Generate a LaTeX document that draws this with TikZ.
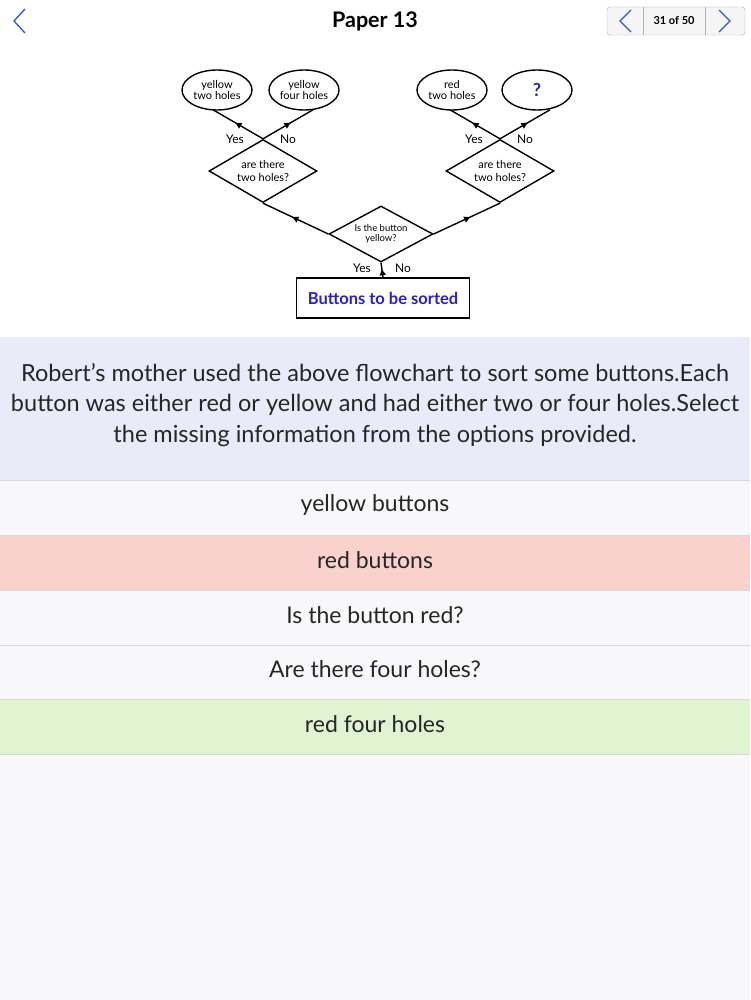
\documentclass[tikz,border=0pt]{standalone}
\usepackage{fontspec}
\setmainfont{Lato}
\usetikzlibrary{shapes.geometric,decorations.markings,arrows.meta,calc}
\definecolor{navblue}{HTML}{2F55D4}
\definecolor{txtblue}{HTML}{2A1FC8}
\definecolor{panel}{HTML}{E9ECF8}
\definecolor{pinkrow}{HTML}{F9D2CE}
\definecolor{greenrow}{HTML}{E1F4D2}
\definecolor{bg}{HTML}{F8F8FA}
\tikzset{
  x=1pt,y=-1pt,
  oval/.style={draw,line width=1.4pt,ellipse,minimum width=70pt,minimum height=40pt,inner sep=0pt,align=center,font=\fontsize{11}{11.5}\selectfont,fill=white},
  dia/.style={draw,line width=1.4pt,diamond,aspect=1.7,minimum width=108pt,minimum height=63pt,inner sep=0pt,align=center,font=\fontsize{11}{12.5}\selectfont},
  flow/.style={line width=1.4pt,postaction={decorate},decoration={markings,mark=at position 0.55 with {\arrow{Triangle[length=6pt,width=6pt]}}}},
  lbl/.style={font=\fontsize{12}{12}\selectfont},
  opt/.style={font=\fontsize{23}{25}\selectfont,text=black!85},
}
\begin{document}
\begin{tikzpicture}
\useasboundingbox (0,0) rectangle (750,1000);
\fill[bg] (0,0) rectangle (750,1000);
\fill[white] (0,0) rectangle (750,337);
% header
\node[font=\bfseries\fontsize{21.5}{21.5}\selectfont] (title) at (375,21) {Paper 13};
\draw[navblue,line width=1.3pt] (25,9) -- (14,21) -- (25,33);
\draw[gray!60,fill=gray!8,rounded corners=3pt] (607,7) rectangle (745,35);
\draw[gray!60] (643,7) -- (643,35) (705,7) -- (705,35);
\draw[navblue,line width=1.3pt] (631,10) -- (620,21) -- (631,32);
\draw[navblue,line width=1.3pt] (719,10) -- (730,21) -- (719,32);
\node[font=\bfseries\fontsize{11}{11}\selectfont] (pg) at (674,21) {31 of 50};
% flowchart
\node[dia] (d1) at (263,171) {are there\\two holes?};
\node[dia] (d2) at (500,171) {are there\\two holes?};
\coordinate (t1) at ($(d1.north)+(-50,-29)$);
\coordinate (t2) at ($(d1.north)+(50,-29)$);
\coordinate (t3) at ($(d2.north)+(-50,-29)$);
\coordinate (t4) at ($(d2.north)+(50,-29)$);
\draw[flow] (d1.north) -- (t1);
\draw[flow] (d1.north) -- (t2);
\draw[flow] (d2.north) -- (t3);
\draw[flow] (d2.north) -- (t4);
\node[oval] (e1) at (217,90) {yellow\\two holes};
\node[oval] (e2) at (304,90) {yellow\\four holes};
\node[oval] (e3) at (452,90) {red\\two holes};
\node[oval,font=\bfseries\fontsize{18}{18}\selectfont,text=txtblue] (e4) at (537,90) {?};
\node[dia,minimum width=104pt,minimum height=56pt,font=\fontsize{9.5}{10.5}\selectfont] (d0) at (381,234) {Is the button\\yellow?};
\node[draw,line width=1.4pt,minimum width=173pt,minimum height=40pt,font=\bfseries\fontsize{16.5}{16.5}\selectfont,text=txtblue] (box) at (383,298) {Buttons to be sorted};
\draw[flow] (box.north) -- (d0.south);
\draw[flow] (d0.west) -- (d1.south);
\draw[flow] (d0.east) -- (d2.south);
\node[lbl] (y0) at (362,268) {Yes};
\node[lbl] (n0) at (403,268) {No};
\node[lbl] (y1) at (235,139) {Yes};
\node[lbl] (n1) at (288,139) {No};
\node[lbl] (y2) at (474,139) {Yes};
\node[lbl] (n2) at (525,139) {No};
% question
\fill[panel] (0,337) rectangle (750,480);
\node[align=center,font=\fontsize{23.5}{30.5}\selectfont,text=black!85] (q) at (375,405) {Robert's mother used the above flowchart to sort some buttons.Each\\button was either red or yellow and had either two or four holes.Select\\the missing information from the options provided.};
\fill[pinkrow] (0,535) rectangle (750,590);
\fill[greenrow] (0,699) rectangle (750,754);
\foreach \yy in {480,535,590,645,699,754} \draw[gray!30] (0,\yy) -- (750,\yy);
\node[opt] (o1) at (375,505) {yellow buttons};
\node[opt] (o2) at (375,560) {red buttons};
\node[opt] (o3) at (375,615) {Is the button red?};
\node[opt] (o4) at (375,669) {Are there four holes?};
\node[opt] (o5) at (375,724) {red four holes};
\end{tikzpicture}
\end{document}
